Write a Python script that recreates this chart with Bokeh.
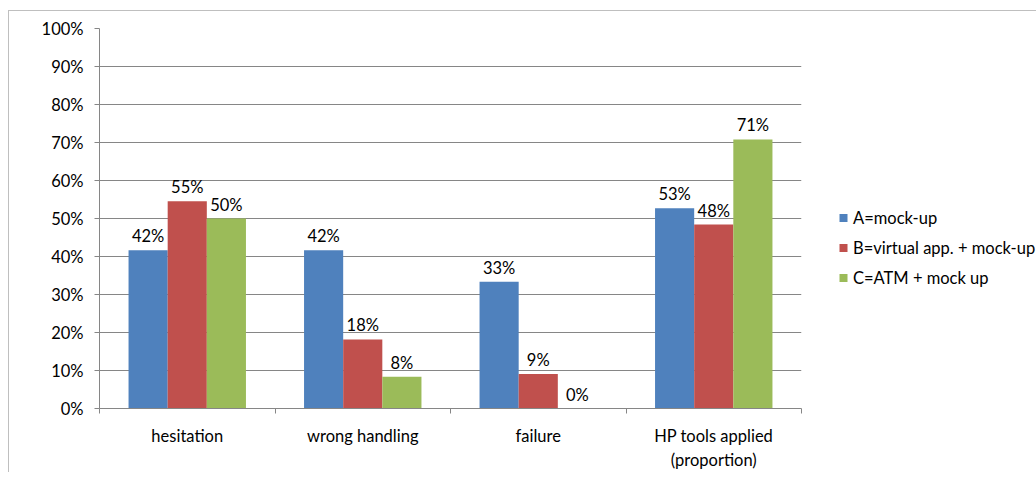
from bokeh.plotting import figure
from bokeh.models import ColumnDataSource, FixedTicker, Legend, LegendItem, NumeralTickFormatter, LabelSet
from bokeh.core.properties import value
from bokeh.embed import file_html
from bokeh.resources import INLINE

categories = ["hesitation", "wrong handling", "failure", "HP tools applied\n(proportion)"]
series_names = ["A=mock-up", "B=virtual app. + mock-up", "C=ATM + mock up"]
values_a = [0.4167, 0.4167, 0.3333, 0.527]
values_b = [0.5455, 0.1818, 0.0909, 0.484]
values_c = [0.50, 0.0833, 0.0, 0.708]
colors = ["#4F81BD", "#C0504D", "#9BBB59"]
y_ticks = [0, 0.1, 0.2, 0.3, 0.4, 0.5, 0.6, 0.7, 0.8, 0.9, 1.0]

FONT = "Lato"
FS = "16.5px"

p = figure(frame_width=702, frame_height=380, x_range=(0, 4), y_range=(0, 1),
           output_backend="svg", toolbar_location=None,
           min_border_left=90, min_border_right=20, min_border_top=17, min_border_bottom=60)
p.styles = {"border-left": "1px solid #bfbfbf", "border-top": "1px solid #bfbfbf",
            "margin-left": "8px", "margin-top": "10px"}
p.outline_line_color = None
p.xgrid.grid_line_color = None
p.ygrid.grid_line_color = "#868686"
p.ygrid.ticker = FixedTicker(ticks=y_ticks)

bar_w = 0.223
offsets = [-bar_w, 0.0, bar_w]
all_vals = [values_a, values_b, values_c]
items = []
for k, (vals, col, off, name) in enumerate(zip(all_vals, colors, offsets, series_names)):
    src = ColumnDataSource(dict(
        x=[i + 0.5 + off for i in range(len(categories))],
        top=vals,
        lab=[f"{round(v * 100):.0f}%" for v in vals],
    ))
    r = p.vbar(x="x", top="top", width=bar_w, source=src, fill_color=col, line_color=None)
    items.append(LegendItem(label=name, renderers=[r]))
    p.add_layout(LabelSet(x="x", y="top", text="lab", source=src, text_align="center",
                          text_baseline="bottom", y_offset=4, text_font=value(FONT),
                          text_font_size=FS, text_color="#000000"))

# y axis
p.yaxis.ticker = FixedTicker(ticks=y_ticks)
p.yaxis.formatter = NumeralTickFormatter(format="0%")
p.yaxis.axis_line_color = "#868686"
p.yaxis.major_tick_line_color = "#868686"
p.yaxis.major_tick_out = 5
p.yaxis.major_tick_in = 0
p.yaxis.minor_tick_line_color = None
p.yaxis.major_label_text_font = FONT
p.yaxis.major_label_text_font_size = FS
p.yaxis.major_label_text_color = "#000000"
p.yaxis.major_label_standoff = 11

# x axis
p.xaxis.ticker = FixedTicker(ticks=[i + 0.5 for i in range(len(categories))],
                             minor_ticks=list(range(len(categories) + 1)))
p.xaxis.major_label_overrides = {i + 0.5: c for i, c in enumerate(categories)}
p.xaxis.axis_line_color = "#868686"
p.xaxis.major_tick_line_color = None
p.xaxis.minor_tick_line_color = "#868686"
p.xaxis.minor_tick_out = 5
p.xaxis.minor_tick_in = 0
p.xaxis.major_label_text_font = FONT
p.xaxis.major_label_text_font_size = FS
p.xaxis.major_label_text_color = "#000000"
p.xaxis.major_label_standoff = 11

legend = Legend(items=items, location="center_left", orientation="vertical",
                title=" ", title_text_font_size="15px", title_standoff=42,
                label_text_font=FONT, label_text_font_size=FS, label_text_color="#000000",
                glyph_width=10, glyph_height=10, label_standoff=5, spacing=10,
                label_height=20, padding=0, margin=37,
                border_line_color=None, background_fill_alpha=0)
p.add_layout(legend, "right")

open("out.html", "w").write(file_html(p, INLINE))
